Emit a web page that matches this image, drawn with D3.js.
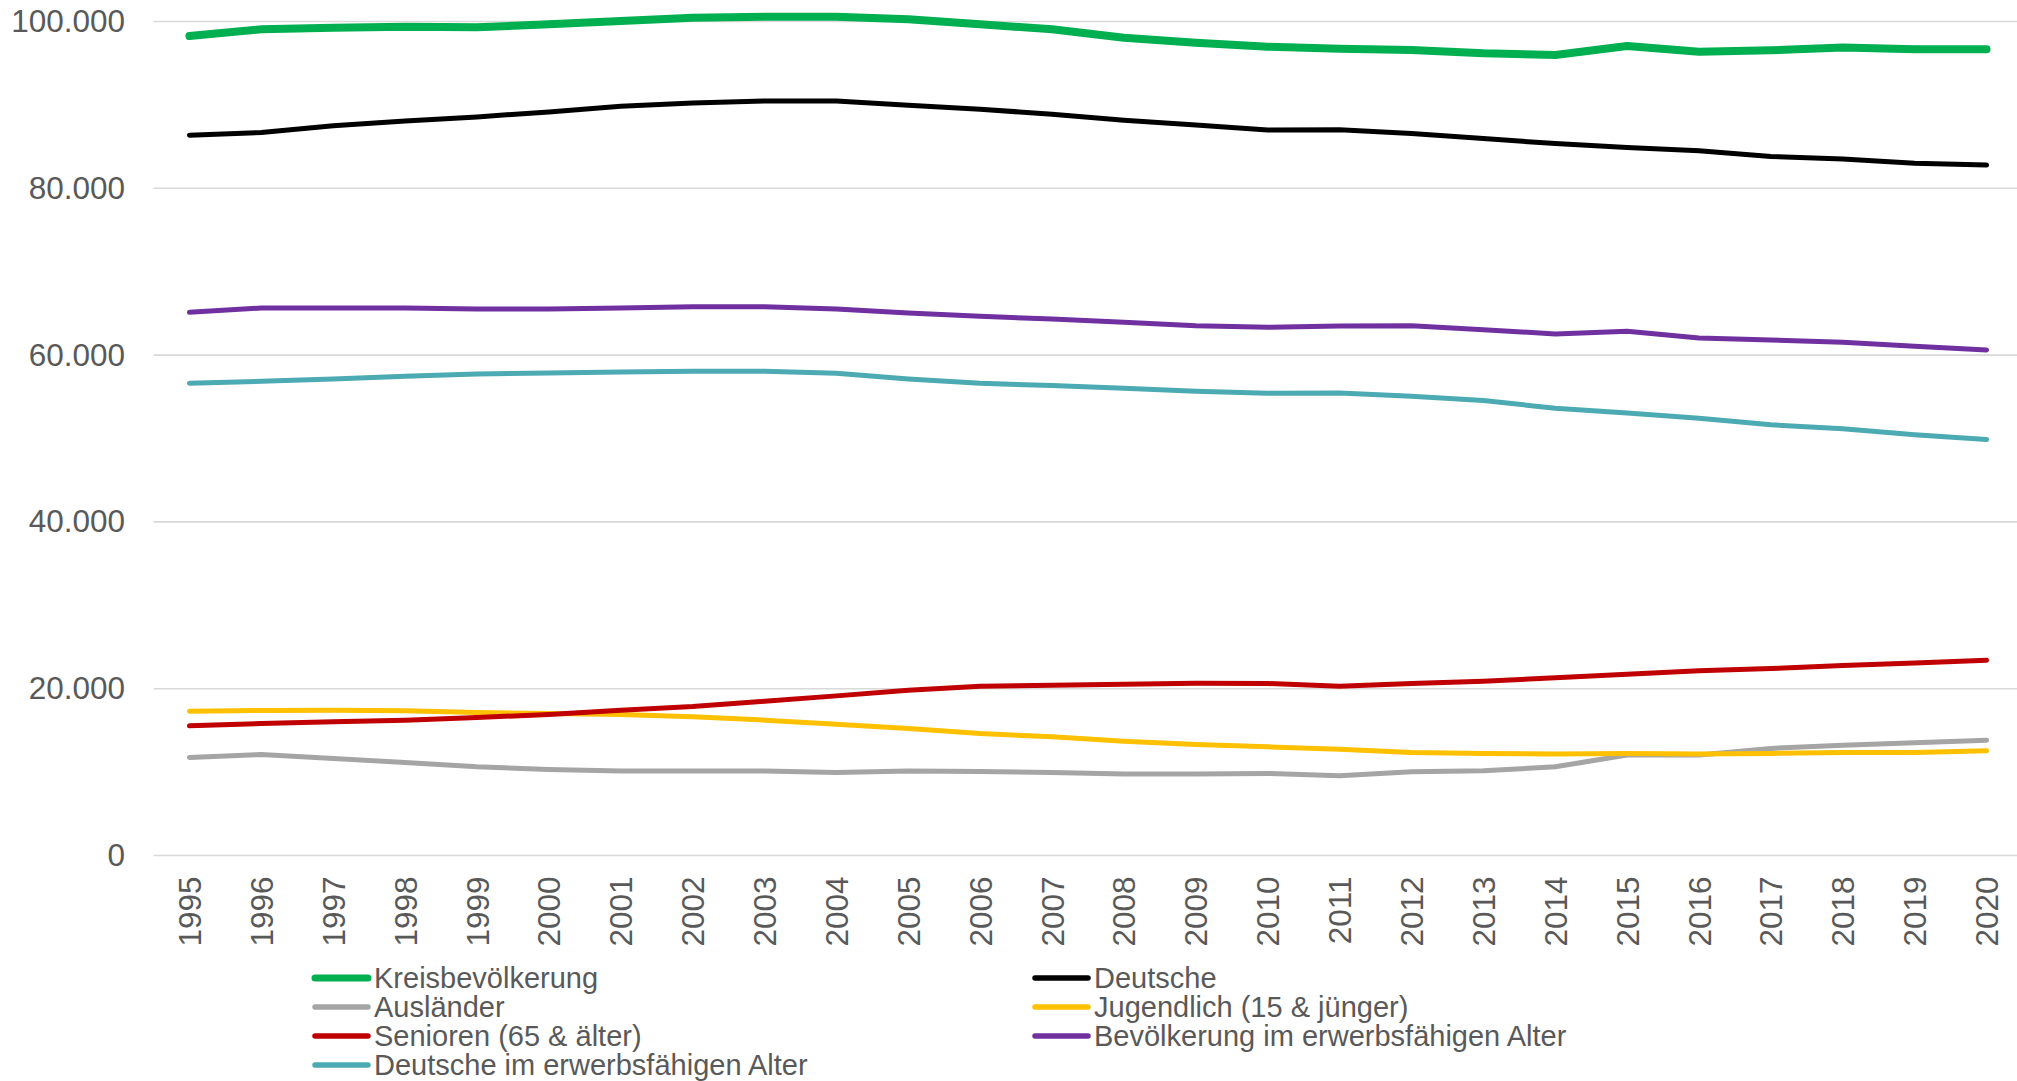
<!DOCTYPE html>
<html>
<head>
<meta charset="utf-8">
<script src="https://cdn.jsdelivr.net/npm/d3@7"></script>
<style>
  html, body { margin: 0; padding: 0; background: #ffffff; }
  svg { display: block; }
  text { font-family: "Liberation Sans", Arial, sans-serif; fill: #595959; }
</style>
</head>
<body>
<svg id="chart" width="2017" height="1081"></svg>
<script>
// ---- Data ----
const years = ["1995","1996","1997","1998","1999","2000","2001","2002","2003","2004","2005","2006","2007","2008","2009","2010","2011","2012","2013","2014","2015","2016","2017","2018","2019","2020"];

const kreisbevoelkerung = [98260, 99060, 99260, 99380, 99300, 99660, 100060, 100460, 100580, 100580, 100260, 99660, 99060, 98060, 97460, 96980, 96740, 96590, 96190, 95990, 97070, 96380, 96550, 96870, 96670, 96670];
const deutsche = [86370, 86680, 87490, 88080, 88560, 89160, 89840, 90240, 90480, 90480, 89960, 89480, 88880, 88160, 87600, 87000, 87020, 86560, 85960, 85360, 84880, 84490, 83810, 83500, 83010, 82780];
const auslaender = [11760, 12120, 11640, 11160, 10640, 10320, 10120, 10140, 10120, 9960, 10120, 10080, 9960, 9760, 9760, 9840, 9560, 10040, 10160, 10640, 12040, 12040, 12840, 13230, 13510, 13830];
const jugendlich = [17310, 17390, 17430, 17350, 17150, 17030, 16910, 16630, 16230, 15750, 15230, 14630, 14230, 13710, 13310, 13030, 12730, 12360, 12240, 12160, 12240, 12160, 12240, 12360, 12360, 12550];
const senioren = [15550, 15830, 16030, 16230, 16550, 16910, 17430, 17860, 18500, 19140, 19820, 20300, 20420, 20540, 20660, 20620, 20300, 20620, 20900, 21300, 21740, 22140, 22420, 22780, 23090, 23410];
const erwerbsfaehig = [65130, 65650, 65650, 65650, 65530, 65530, 65650, 65810, 65810, 65530, 65050, 64650, 64330, 63930, 63530, 63330, 63490, 63530, 63050, 62540, 62860, 62060, 61820, 61540, 61050, 60620];
const deutscheErwerbsfaehig = [56620, 56860, 57140, 57460, 57740, 57860, 57980, 58060, 58060, 57820, 57140, 56620, 56350, 56030, 55670, 55430, 55470, 55070, 54550, 53630, 53070, 52430, 51640, 51160, 50440, 49880];

const yTicks = [0, 20000, 40000, 60000, 80000, 100000];

const seriesNames = ["Kreisbevölkerung", "Deutsche", "Ausländer", "Jugendlich (15 & jünger)", "Senioren (65 & älter)", "Bevölkerung im erwerbsfähigen Alter", "Deutsche im erwerbsfähigen Alter"];
const seriesValues = [kreisbevoelkerung, deutsche, auslaender, jugendlich, senioren, erwerbsfaehig, deutscheErwerbsfaehig];
const seriesColors = ["#00B050", "#000000", "#A5A5A5", "#FFC000", "#C00000", "#7030A0", "#4BAAB2"];
const seriesWidths = [8, 5, 5, 5, 5, 5, 5];

// ---- Layout ----
const svg = d3.select("#chart");
const plot = { left: 153.5, right: 2022.5, top: 21.5, bottom: 855.5 };

const x = d3.scalePoint().domain(years).range([plot.left, plot.right]).padding(0.5);
const y = d3.scaleLinear().domain([0, 100000]).range([plot.bottom, plot.top]);

const locale = d3.formatLocale({ decimal: ",", thousands: ".", grouping: [3], currency: ["", " €"] });
const fmt = locale.format(",d");

// gridlines
svg.append("g")
  .selectAll("line")
  .data(yTicks)
  .join("line")
  .attr("x1", plot.left)
  .attr("x2", plot.right)
  .attr("y1", d => y(d))
  .attr("y2", d => y(d))
  .attr("stroke", "#D9D9D9")
  .attr("stroke-width", 1.6);

// y axis labels
const yAxis = d3.axisLeft(y).tickValues(yTicks).tickFormat(fmt).tickSize(0).tickPadding(0);
const gy = svg.append("g").attr("transform", `translate(125,0)`).call(yAxis);
gy.select(".domain").remove();
gy.selectAll("text")
  .attr("font-size", 31.5)
  .attr("font-family", "'Liberation Sans', Arial, sans-serif")
  .attr("fill", "#595959");

// x axis labels
const xAxis = d3.axisBottom(x).tickSize(0).tickPadding(0);
const gx = svg.append("g").attr("transform", `translate(0,${plot.bottom})`).call(xAxis);
gx.select(".domain").remove();
gx.selectAll("text")
  .attr("font-size", 31.5)
  .attr("font-family", "'Liberation Sans', Arial, sans-serif")
  .attr("fill", "#595959")
  .attr("text-anchor", "end")
  .attr("transform", "translate(0,21) rotate(-90)")
  .attr("x", 0)
  .attr("y", 0)
  .attr("dy", "0.35em");

// lines
const line = d3.line()
  .x((d, i) => x(years[i]))
  .y(d => y(d));

svg.append("g")
  .selectAll("path")
  .data(seriesValues)
  .join("path")
  .attr("d", d => line(d))
  .attr("fill", "none")
  .attr("stroke", (d, i) => seriesColors[i])
  .attr("stroke-width", (d, i) => seriesWidths[i])
  .attr("stroke-linejoin", "round")
  .attr("stroke-linecap", "round");

// legend
const legendPos = [
  { x: 315, y: 978 }, { x: 1035, y: 978 },
  { x: 315, y: 1007 }, { x: 1035, y: 1007 },
  { x: 315, y: 1036 }, { x: 1035, y: 1036 },
  { x: 315, y: 1065 }
];
const lg = svg.append("g")
  .selectAll("g")
  .data(seriesNames)
  .join("g")
  .attr("transform", (d, i) => `translate(${legendPos[i].x},${legendPos[i].y})`);

lg.append("line")
  .attr("x1", 0).attr("x2", 53)
  .attr("y1", 0).attr("y2", 0)
  .attr("stroke", (d, i) => seriesColors[i])
  .attr("stroke-width", (d, i) => i === 0 ? 7 : 5.5)
  .attr("stroke-linecap", "round");

lg.append("text")
  .attr("x", 59)
  .attr("y", 0)
  .attr("dy", "0.35em")
  .attr("font-size", 29)
  .text(d => d);
</script>
</body>
</html>
